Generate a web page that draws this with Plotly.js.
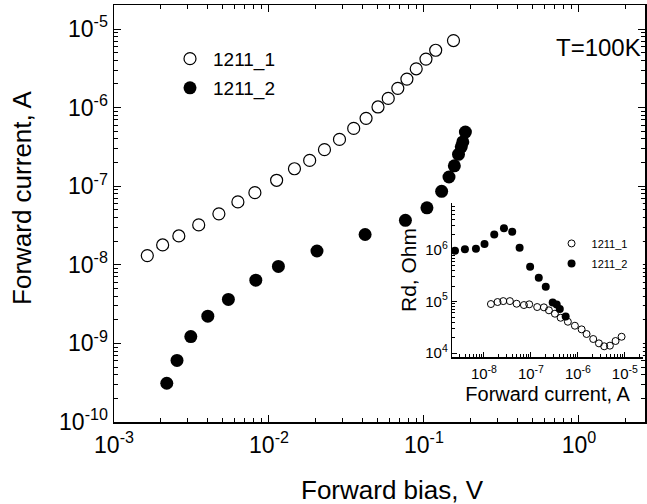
<!DOCTYPE html>
<html><head><meta charset="utf-8">
<script src="https://cdn.plot.ly/plotly-3.0.1.min.js"></script>
<style>html,body{margin:0;padding:0;background:#fff}#chart{width:647px;height:504px}</style>
</head><body><div id="chart"></div>
<script>
// ---- data ----
const seriesNames = ['1211_1', '1211_2'];
const bias1 = [0.00164, 0.00206, 0.00262, 0.00352, 0.00475, 0.0063, 0.00811, 0.0112, 0.0146, 0.0183, 0.0228, 0.0285, 0.0352, 0.0423, 0.0505, 0.0588, 0.0678, 0.0776, 0.0891, 0.103, 0.119, 0.155];
const current1 = [1.31e-8, 1.79e-8, 2.33e-8, 3.22e-8, 4.45e-8, 6.32e-8, 8.28e-8, 1.19e-7, 1.67e-7, 2.13e-7, 2.92e-7, 3.94e-7, 5.44e-7, 7.31e-7, 1.02e-6, 1.31e-6, 1.76e-6, 2.31e-6, 3.12e-6, 4.15e-6, 5.37e-6, 7.14e-6];
const bias2 = [0.00219, 0.00255, 0.00313, 0.00403, 0.00547, 0.00822, 0.0115, 0.0204, 0.0417, 0.0759, 0.1045, 0.130, 0.145, 0.157, 0.167, 0.174, 0.178, 0.185];
const current2 = [3.11e-10, 6.07e-10, 1.22e-9, 2.22e-9, 3.63e-9, 6.37e-9, 9.55e-9, 1.50e-8, 2.43e-8, 3.68e-8, 5.31e-8, 8.61e-8, 1.31e-7, 1.82e-7, 2.55e-7, 3.17e-7, 3.66e-7, 4.89e-7];

const insetI1 = [1.41e-8, 1.95e-8, 2.58e-8, 3.57e-8, 4.97e-8, 7.10e-8, 9.2e-8, 1.36e-7, 1.89e-7, 2.42e-7, 3.24e-7, 4.29e-7, 6.12e-7, 8.63e-7, 1.20e-6, 1.53e-6, 2.12e-6, 2.80e-6, 3.63e-6, 4.80e-6, 6.34e-6, 8.51e-6];
const insetRd1 = [8.94e4, 9.78e4, 1.02e5, 1.02e5, 9.06e4, 8.55e4, 8.83e4, 7.82e4, 7.71e4, 6.75e4, 5.80e4, 4.84e4, 4.05e4, 3.39e4, 2.88e4, 2.34e4, 1.87e4, 1.54e4, 1.35e4, 1.39e4, 1.71e4, 2.07e4];
const insetI2 = [2.42e-9, 3.94e-9, 6.76e-9, 1.03e-8, 1.66e-8, 2.67e-8, 4.00e-8, 5.75e-8, 9.62e-8, 1.47e-7, 2.07e-7, 2.91e-7, 3.54e-7, 4.12e-7, 5.49e-7];
const insetRd2 = [9.7e5, 1.04e6, 1.06e6, 1.31e6, 2.00e6, 2.65e6, 2.27e6, 1.11e6, 4.74e5, 2.89e5, 1.94e5, 9.6e4, 8.75e4, 7.2e4, 5.12e4];

const mainXTickVals = [1e-3, 1e-2, 1e-1, 1];
const mainXTickText = ['10<sup>-3</sup>', '10<sup>-2</sup>', '10<sup>-1</sup>', '10<sup>0</sup>'];
const mainYTickVals = [1e-10, 1e-9, 1e-8, 1e-7, 1e-6, 1e-5];
const mainYTickText = ['10<sup>-10</sup>', '10<sup>-9</sup>', '10<sup>-8</sup>', '10<sup>-7</sup>', '10<sup>-6</sup>', '10<sup>-5</sup>'];
const insetXTickVals = [1e-8, 1e-7, 1e-6, 1e-5];
const insetXTickText = ['10<sup>-8</sup>', '10<sup>-7</sup>', '10<sup>-6</sup>', '10<sup>-5</sup>'];
const insetYTickVals = [1e4, 1e5, 1e6];
const insetYTickText = ['10<sup>4</sup>', '10<sup>5</sup>', '10<sup>6</sup>'];

const mainTitleX = 'Forward bias, V';
const mainTitleY = 'Forward current, A';
const insetTitleX = 'Forward current, A';
const insetTitleY = 'Rd, Ohm';
const tempLabel = 'T=100K';

// minor tick positions (2..9 within each decade)
function minors(loExp, hiExp) {
  const out = [];
  for (let e = loExp; e <= hiExp; e++) {
    for (let m = 2; m <= 9; m++) out.push(m * Math.pow(10, e));
  }
  return out;
}

const FONT = 'Liberation Sans, Arial, Helvetica, sans-serif';

const traces = [
  {x: bias1, y: current1, mode: 'markers', name: seriesNames[0], legend: 'legend', legendgroup: 'a',
   marker: {symbol: 'circle-open', size: 12, color: '#000', line: {width: 1.2, color: '#000'}}},
  {x: bias2, y: current2, mode: 'markers', name: seriesNames[1], legend: 'legend', legendgroup: 'b',
   marker: {symbol: 'circle', size: 13, color: '#000'}},
  {x: insetI1, y: insetRd1, xaxis: 'x2', yaxis: 'y2', mode: 'markers', name: seriesNames[0], legend: 'legend2', legendgroup: 'c',
   cliponaxis: false, marker: {symbol: 'circle-open', size: 7, color: '#000', line: {width: 1, color: '#000'}}},
  {x: insetI2, y: insetRd2, xaxis: 'x2', yaxis: 'y2', mode: 'markers', name: seriesNames[1], legend: 'legend2', legendgroup: 'd',
   cliponaxis: false, marker: {symbol: 'circle', size: 8, color: '#000'}}
];

const axisCommon = {
  type: 'log', showline: true, linecolor: '#000', linewidth: 1.5, showgrid: false, zeroline: false,
  ticks: 'inside', tickcolor: '#000', tickwidth: 1, tickmode: 'array'
};

const layout = {
  width: 647, height: 504,
  margin: {l: 114, r: 2, t: 5, b: 82},
  paper_bgcolor: '#fff', plot_bgcolor: '#fff',
  font: {family: FONT, color: '#000'},
  showlegend: true,
  xaxis: Object.assign({}, axisCommon, {
    domain: [0, 1], anchor: 'y', range: [-3, 0.426], mirror: 'allticks', ticklen: 7,
    tickvals: mainXTickVals, ticktext: mainXTickText, tickfont: {size: 23}, ticklabelstandoff: 2,
    minor: {tickmode: 'array', tickvals: minors(-3, 0), ticks: 'inside', ticklen: 4, tickwidth: 1, tickcolor: '#000'}
  }),
  yaxis: Object.assign({}, axisCommon, {
    domain: [0, 1], anchor: 'x', range: [-10, -4.694], mirror: 'allticks', ticklen: 7,
    tickvals: mainYTickVals, ticktext: mainYTickText, tickfont: {size: 23},
    minor: {tickmode: 'array', tickvals: minors(-10, -5), ticks: 'inside', ticklen: 4, tickwidth: 1, tickcolor: '#000'}
  }),
  xaxis2: Object.assign({}, axisCommon, {
    domain: [0.637, 0.996], anchor: 'y2', range: [-8.674, -4.617], ticklen: 5,
    tickvals: insetXTickVals, ticktext: insetXTickText, tickfont: {size: 15}, ticklabelstandoff: 2,
    minor: {tickmode: 'array', tickvals: minors(-9, -5), ticks: 'inside', ticklen: 3, tickwidth: 1, tickcolor: '#000'},
    title: {text: insetTitleX, font: {size: 20}, standoff: 6}
  }),
  yaxis2: Object.assign({}, axisCommon, {
    domain: [0.1547, 0.525], anchor: 'x2', range: [3.913, 6.913], ticklen: 5,
    tickvals: insetYTickVals, ticktext: insetYTickText, tickfont: {size: 15},
    minor: {tickmode: 'array', tickvals: minors(4, 6), ticks: 'inside', ticklen: 3, tickwidth: 1, tickcolor: '#000'}
  }),
  legend: {x: 0.0998, y: 0.9166, xanchor: 'left', yanchor: 'top', bgcolor: 'rgba(0,0,0,0)', itemwidth: 36,
    font: {size: 19}, traceorder: 'grouped', tracegroupgap: 1.5, itemsizing: 'trace'},
  legend2: {x: 0.824, y: 0.463, xanchor: 'left', yanchor: 'top', bgcolor: 'rgba(0,0,0,0)',
    font: {size: 11}, traceorder: 'grouped', tracegroupgap: 1, itemsizing: 'trace'},
  annotations: [
    {text: tempLabel, xref: 'paper', yref: 'paper', x: 0.9957, y: 0.899, xanchor: 'right', yanchor: 'middle',
     showarrow: false, font: {size: 24}},
    {text: mainTitleX, xref: 'paper', yref: 'paper', x: 0.5254, y: -0.163, xanchor: 'center', yanchor: 'middle',
     showarrow: false, font: {size: 26}},
    {text: mainTitleY, xref: 'paper', yref: 'paper', x: -0.1733, y: 0.5396, xanchor: 'center', yanchor: 'middle',
     textangle: -90, showarrow: false, font: {size: 26}},
    {text: insetTitleY, xref: 'paper', yref: 'paper', x: 0.5537, y: 0.3645, xanchor: 'center', yanchor: 'middle',
     textangle: -90, showarrow: false, font: {size: 21}}
  ]
};

Plotly.newPlot('chart', traces, layout, {staticPlot: true, displayModeBar: false});
</script>
</body></html>
